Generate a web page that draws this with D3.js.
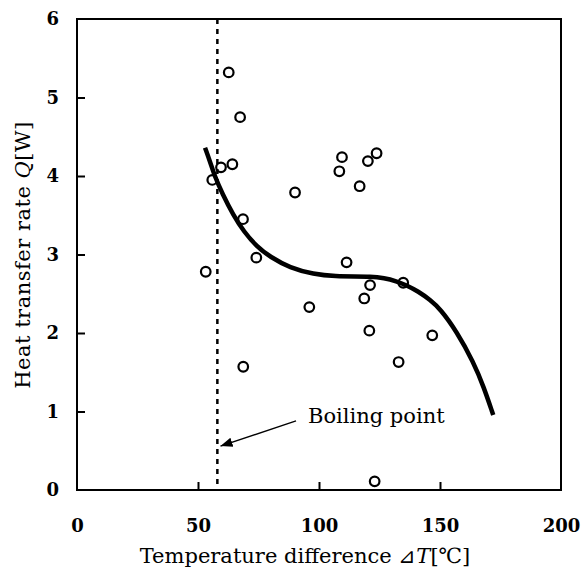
<!DOCTYPE html>
<html>
<head>
<meta charset="utf-8">
<script src="https://cdn.jsdelivr.net/npm/d3@7"></script>
<style>
  body { margin: 0; background: #fff; }
  text { font-family: "DejaVu Serif", "Liberation Serif", serif; fill: #000; }
</style>
</head>
<body>
<script>
// measured points: temperature difference [C], heat transfer rate [W]
const tempDiff = [62.7, 67.4, 64.2, 59.5, 55.9, 68.6, 74.1, 53.2, 68.7, 90.1,
                  109.5, 108.4, 120.2, 123.8, 116.8, 111.4, 121.1, 134.8,
                  96.0, 118.7, 120.8, 146.8, 132.9, 123.0];
const heatRate = [5.32, 4.75, 4.15, 4.11, 3.95, 3.45, 2.96, 2.78, 1.57, 3.79,
                  4.24, 4.06, 4.19, 4.29, 3.87, 2.90, 2.61, 2.64,
                  2.33, 2.44, 2.03, 1.97, 1.63, 0.11];

// fitted curve
const fitT = [52.9, 55, 57, 60, 64.6, 69, 74.3, 79.8, 88, 97.6, 107.3, 115, 121, 127,
              132, 136, 141, 146, 150, 156.9, 163.8, 168, 172];
const fitQ = [4.36, 4.18, 3.99, 3.78, 3.50, 3.29, 3.10, 2.97, 2.83, 2.75, 2.72, 2.72, 2.72, 2.70,
              2.66, 2.61, 2.53, 2.42, 2.31, 2.02, 1.63, 1.32, 0.955];

const boilingPoint = 58;
const xTicks = [0, 50, 100, 150, 200];
const yTicks = [0, 1, 2, 3, 4, 5, 6];

const W = 583, H = 571;
const mLeft = 77, mRight = 561, mTop = 19, mBottom = 490;

const x = d3.scaleLinear().domain([0, 200]).range([mLeft, mRight]);
const y = d3.scaleLinear().domain([0, 6]).range([mBottom, mTop]);

const svg = d3.select("body").append("svg")
  .attr("width", W).attr("height", H);

svg.append("defs").append("marker")
  .attr("id", "head")
  .attr("viewBox", "0 0 10 10")
  .attr("refX", 10).attr("refY", 5)
  .attr("markerWidth", 12).attr("markerHeight", 12)
  .attr("markerUnits", "userSpaceOnUse")
  .attr("orient", "auto")
  .append("path")
  .attr("d", "M0,1 L10,5 L0,9 Z")
  .attr("fill", "#000");

// frame
svg.append("rect")
  .attr("x", mLeft).attr("y", mTop)
  .attr("width", mRight - mLeft).attr("height", mBottom - mTop)
  .attr("fill", "none").attr("stroke", "#000").attr("stroke-width", 2);

// axes, ticks pointing inward
const xAxis = d3.axisBottom(x).tickValues(xTicks).tickSize(-8).tickPadding(29)
  .tickFormat(d3.format("d"));
const yAxis = d3.axisLeft(y).tickValues(yTicks).tickSize(-8).tickPadding(18)
  .tickFormat(d3.format("d"));

const gx = svg.append("g").attr("transform", `translate(0,${mBottom})`).call(xAxis);
const gy = svg.append("g").attr("transform", `translate(${mLeft},0)`).call(yAxis);
[gx, gy].forEach(g => {
  g.select(".domain").remove();
  g.selectAll(".tick line").attr("stroke", "#000").attr("stroke-width", 2);
  g.selectAll(".tick text").attr("font-size", 18).attr("font-family", "DejaVu Serif")
    .attr("font-weight", "bold").attr("fill", "#000");
});
gx.selectAll(".tick").filter(d => d === 0 || d === 200).select("line").remove();
gy.selectAll(".tick").filter(d => d === 0 || d === 6).select("line").remove();

// boiling point line
svg.append("line")
  .attr("x1", x(boilingPoint)).attr("x2", x(boilingPoint))
  .attr("y1", y(6)).attr("y2", y(0))
  .attr("stroke", "#000").attr("stroke-width", 2.5)
  .attr("stroke-dasharray", "5,5");

// data points
const pts = tempDiff.map((t, i) => [t, heatRate[i]]);
svg.append("g").selectAll("circle")
  .data(pts).enter().append("circle")
  .attr("cx", d => x(d[0])).attr("cy", d => y(d[1]))
  .attr("r", 4.8)
  .attr("fill", "none").attr("stroke", "#000").attr("stroke-width", 2.2);

// fitted curve
const fit = fitT.map((t, i) => [t, fitQ[i]]);
svg.append("path")
  .datum(fit)
  .attr("fill", "none").attr("stroke", "#000").attr("stroke-width", 4.5)
  .attr("stroke-linecap", "butt")
  .attr("d", d3.line().x(d => x(d[0])).y(d => y(d[1])).curve(d3.curveBasis));

// annotation
svg.append("line")
  .attr("x1", x(90.5)).attr("y1", y(0.88))
  .attr("x2", x(59.3)).attr("y2", y(0.56))
  .attr("stroke", "#000").attr("stroke-width", 1.4)
  .attr("marker-end", "url(#head)");

svg.append("text")
  .attr("x", 308).attr("y", 423)
  .attr("font-size", 21)
  .text("Boiling point");

// axis titles
const xt = svg.append("text")
  .attr("x", 305).attr("y", 563)
  .attr("text-anchor", "middle").attr("font-size", 21);
xt.append("tspan").text("Temperature difference ⊿");
xt.append("tspan").attr("font-style", "italic").text("T");
xt.append("tspan").text("[℃]");

const yt = svg.append("text")
  .attr("transform", "translate(30,255) rotate(-90)")
  .attr("text-anchor", "middle").attr("font-size", 21)
  .attr("letter-spacing", 0.5);
yt.append("tspan").text("Heat transfer rate ");
yt.append("tspan").attr("font-style", "italic").text("Q");
yt.append("tspan").text("[W]");
</script>
</body>
</html>
